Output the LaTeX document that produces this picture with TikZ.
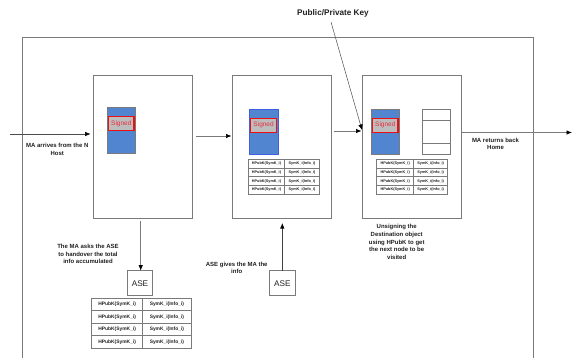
\documentclass[tikz,border=0pt]{standalone}
\usepackage{fontspec}
\setmainfont{Liberation Sans}
\usetikzlibrary{arrows.meta}
\definecolor{ln}{HTML}{7A7A7A}
\definecolor{blu}{HTML}{5185CF}
\definecolor{sgn}{HTML}{BDBDBD}
\definecolor{txt}{HTML}{202020}
\definecolor{sred}{HTML}{EC2B3A}
\definecolor{sbrd}{HTML}{EE1010}
\definecolor{bbrd}{HTML}{3D5FE0}
\tikzset{
  x=1pt,y=-1pt,
  box/.style={draw=ln,line width=0.8pt,fill=white,inner sep=0pt,outer sep=0pt},
  panel/.style={box,minimum width=99pt,minimum height=143pt},
  blue/.style={draw=#1,line width=0.7pt,fill=blu,minimum width=28.6pt,minimum height=45.5pt,inner sep=0pt},
  signed/.style={draw=sbrd,line width=1.2pt,fill=sgn,minimum width=25.5pt,minimum height=14pt,inner sep=0pt,text=sred,font=\fontsize{6.5}{7}\selectfont},
  ase/.style={box,minimum width=25.4pt,minimum height=25pt,font=\fontsize{8.2}{9}\selectfont,text=txt},
  lab/.style={align=center,inner sep=0pt,text=txt,font=\fontsize{6}{7.6}\bfseries\selectfont},
  cellS/.style={box,line width=0.6pt,minimum width=36pt,minimum height=8.85pt,font=\fontsize{3.8}{4}\bfseries\selectfont,text=txt},
  cellL/.style={box,line width=0.6pt,minimum width=50pt,minimum height=12.45pt,font=\fontsize{4.9}{5}\bfseries\selectfont,text=txt},
  arr/.style={draw=#1,line width=0.7pt,-{Latex[length=5.5pt,width=4.5pt,black]}},
  arr/.default=ln
}
\begin{document}
\begin{tikzpicture}
\useasboundingbox (0,0) rectangle (572,358);
\coordinate (olb) at (22.5,358);
\coordinate (olt) at (22.5,37.5);
\coordinate (ort) at (533,37.5);
\coordinate (orb) at (533,358);
\draw[ln,line width=0.8pt] (olb) -- (olt) -- (ort) -- (orb);
% panels
\node[panel] (p1) at (143,146.5) {};
\node[panel] (p2) at (282,146.5) {};
\node[panel] (p3) at (412,146.5) {};
% blue objects
\node[blue=ln] (b1) at (121.3,130.2) {};
\node[signed] (s1) at (121.3,123.5) {Signed};
\node[blue=bbrd] (b2) at (263.6,131.8) {};
\node[signed] (s2) at (263.6,125.2) {Signed};
\node[blue=ln] (b3) at (385.3,131.8) {};
\node[signed] (s3) at (385.3,125.2) {Signed};
% stack
\node[box,minimum width=28.5pt,minimum height=11pt] (w1) at (436.2,114.5) {};
\node[box,minimum width=28.5pt,minimum height=23pt] (w2) at (436.2,131.5) {};
\node[box,minimum width=28.5pt,minimum height=11.5pt] (w3) at (436.2,148.75) {};
% small tables
\foreach \r/\y in {1/163.4,2/172.25,3/181.1,4/189.95}{
  \node[cellS] (ta\r) at (266.5,\y) {HPubK(SymK\_i)};
  \node[cellS,minimum width=34.7pt] (tb\r) at (302,\y) {SymK\_i(Info\_i)};
  \node[cellS,minimum width=37pt] (tc\r) at (395.2,\y) {HPubK(SymK\_i)};
  \node[cellS,minimum width=34pt] (td\r) at (430.7,\y) {SymK\_i(Info\_i)};
}
% ASE table
\foreach \r/\y in {1/304.5,2/317,3/329.5,4/342}{
  \node[cellL,minimum width=51pt] (la\r) at (117.2,\y) {HPubK(SymK\_i)};
  \node[cellL,minimum width=48.3pt] (lb\r) at (166.9,\y) {SymK\_i(Info\_i)};
}
% ASE boxes
\node[ase] (a1) at (140,283.2) {ASE};
\node[ase] (a2) at (282.3,283.2) {ASE};
% labels
\node[inner sep=0pt,text=txt,font=\fontsize{8.2}{9}\bfseries\selectfont] (key) at (333,13) {Public/Private Key};
\node[lab] (t1) at (57.3,149.5) {MA arrives from the N\\Host};
\node[lab] (t2) at (495.5,144) {MA returns back\\Home};
\node[lab] (t3) at (88,254) {The MA asks the ASE\\to handover the total\\info accumulated};
\node[lab] (t4) at (236.7,268) {ASE gives the MA the\\info};
\node[lab] (t5) at (396.7,242) {Unsigning the\\Destination object\\using HPubK to get\\the next node to be\\visited};
% connectors
\coordinate (inS) at (10,134);
\coordinate (outE) at (572,132.5);
\draw[arr=black!70,line width=0.5pt] (inS) -- ([shift={(-3,-12.5)}]p1.west);
\draw[arr] ([shift={(3,-10.5)}]p1.east) -- ([shift={(-1,-10.5)}]p2.west);
\draw[arr] ([shift={(2,-15.5)}]p2.east) -- ([shift={(-1,-15.5)}]p3.west);
\draw[arr] ([yshift=14pt]p3.east) -- (outE);
\draw[arr=black!70,line width=0.5pt] ([shift={(-2,5)}]key.south) -- ([shift={(-0.5,-16.5)}]p3.west);
\draw[arr] ([shift={(0.7,3)}]a1.north |- p1.south) -- ([xshift=0.7pt]a1.north);
\draw[arr=black!75] (a2.north) -- ([yshift=-5pt]a2.north |- p2.south);
\end{tikzpicture}
\end{document}
